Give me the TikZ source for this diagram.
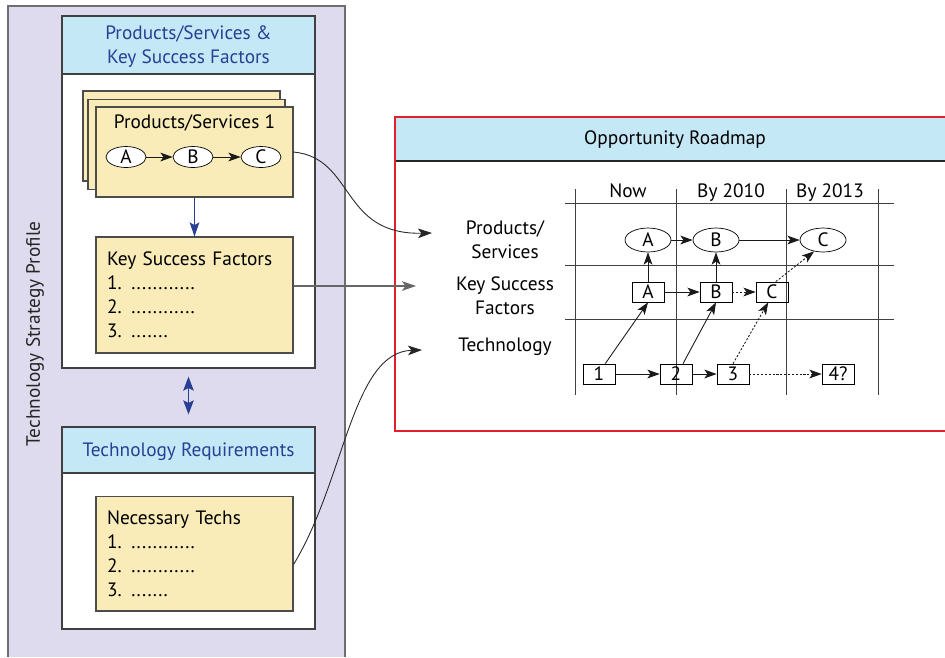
\documentclass[tikz,border=0pt]{standalone}
\usepackage{fontspec}
\setmainfont{PT Sans}
\definecolor{tslavender}{RGB}{223,219,238}
\definecolor{tsheadblue}{RGB}{197,232,247}
\definecolor{tsyellow}{RGB}{249,236,185}
\definecolor{tsnavy}{RGB}{40,64,148}
\definecolor{tsred}{RGB}{226,32,44}
\definecolor{tsgray}{RGB}{110,110,110}
\usetikzlibrary{arrows.meta,positioning,shapes.geometric,calc}

\begin{document}
\begin{tikzpicture}[
  x=0.02cm,y=-0.02cm,
  font=\fontsize{11}{13.6}\selectfont,
  panelbox/.style={draw=black!75,fill=white,line width=0.7pt,minimum width=5.06cm},
  headbox/.style={draw=black!75,fill=tsheadblue,line width=0.7pt,minimum width=5.06cm,
    text=tsnavy,align=center,anchor=north,text depth=0pt},
  notebox/.style={draw=black!70,fill=tsyellow,line width=0.6pt},
  listbox/.style={notebox,text width=3.5cm,inner xsep=0.22cm,align=left},
  psoval/.style={draw,ellipse,fill=white,minimum width=0.8cm,minimum height=0.42cm,inner sep=0pt},
  mapoval/.style={draw,ellipse,minimum width=0.92cm,minimum height=0.48cm,inner sep=0pt},
  mapbox/.style={draw,minimum width=0.64cm,minimum height=0.4cm,inner sep=0pt},
  link/.style={-{Stealth[length=8pt,width=5.5pt,inset=2pt]},black!85,line width=0.5pt},
  maparrow/.style={-{Stealth[length=7pt,width=5pt,inset=1.8pt]},black!90,line width=0.5pt},
  fine/.style={dash pattern=on 1.2pt off 1pt},
  gridline/.style={black!75,line width=0.55pt}
]
  \useasboundingbox (0,0) rectangle (945,657);
  % Strategy profile
  \fill[tslavender] (8,6) rectangle (345,657);
  \draw[tsgray,line width=0.8pt] (8,657) -- (8,6) -- (345,6) -- (345,657);
  \node[rotate=90,text=black!85] (tsp) at (35,334) {Technology Strategy Profile};
  % Products/Services & KSF panel
  \node[panelbox,minimum height=7.04cm] (pksf) at (188.5,192) {};
  \node[headbox,minimum height=1.16cm] (pkshead) at (pksf.north) {Products/Services \&\\Key Success Factors};
  \node[notebox,minimum width=3.94cm,minimum height=1.8cm] (ps3) at (181.5,136) {};
  \node[notebox,minimum width=3.94cm,minimum height=1.8cm] (ps2) at (186.5,144.5) {};
  \node[notebox,minimum width=3.94cm,minimum height=1.8cm] (ps1) at (194.5,152) {};
  \node (ps1title) at (194.5,123) {Products/Services 1};
  \node[psoval] (pa) at (126,157) {A};
  \node[psoval] (pb) at (193,157) {B};
  \node[psoval] (pc) at (261,157) {C};
  \draw[maparrow] (pa) -- (pb);
  \draw[maparrow] (pb) -- (pc);
  \node[listbox,minimum height=2.32cm] (ksf) at (194.5,295)
    {Key Success Factors\\1. ............\\2. ............\\3. .......};
  \draw[-{Stealth[length=8pt,width=5.5pt,inset=1.5pt]},tsnavy,line width=0.6pt] (ps1.south) -- (ksf.north);
  % Technology requirements panel
  \node[panelbox,minimum height=4.04cm] (ptech) at (188.5,528) {};
  \node[headbox,minimum height=0.92cm] (techreq) at (ptech.north) {Technology Requirements};
  \node[listbox,minimum height=2.3cm] (ntech) at (194.5,553.5)
    {Necessary Techs\\1. ............\\2. ............\\3. .......};
  \draw[{Stealth[length=8pt,width=6pt,inset=1.5pt]}-{Stealth[length=8pt,width=6pt,inset=1.5pt]},
    tsnavy,line width=0.7pt,shorten <=0.16cm,shorten >=0.24cm] (pksf.south) -- (ptech.north);
  % Opportunity roadmap
  \fill[tsheadblue] (395,117) rectangle (946,161);
  \draw[black!85,line width=0.7pt] (395,161) -- (946,161);
  \draw[tsred,line width=0.7pt] (946,117) -| (395,431) -- (946,431);
  \node (roadmap) at (675,140) {Opportunity Roadmap};
  \foreach \x in {575,676,786,878} \draw[gridline] (\x,189) -- (\x,395);
  \foreach \y in {203,265,319} \draw[gridline] (565,\y) -- (894,\y);
  \node[anchor=base] (now) at (628,197) {Now};
  \node[anchor=base] (by10) at (731,197) {By 2010};
  \node[anchor=base] (by13) at (830,197) {By 2013};
  \node[align=center] (rowps) at (505,240) {Products/\\Services};
  \node[align=center] (rowksf) at (505,296) {Key Success\\Factors};
  \node (rowtech) at (505,347) {Technology};
  % Roadmap items
  \node[mapoval] (ea) at (648,240) {A};
  \node[mapoval] (eb) at (716,240) {B};
  \node[mapoval] (ec) at (823,240) {C};
  \node[mapbox] (ka) at (648,292) {A};
  \node[mapbox] (kb) at (716,292) {B};
  \node[mapbox] (kc) at (772,292) {C};
  \node[mapbox] (t1) at (599,374) {1};
  \node[mapbox] (t2) at (676,374) {2};
  \node[mapbox] (t3) at (733,374) {3};
  \node[mapbox] (t4) at (838,374) {4?};
  \draw[maparrow] (ea) -- (eb);
  \draw[maparrow] (eb) -- (ec);
  \draw[maparrow] (ka) -- (ea);
  \draw[maparrow] (kb) -- (eb);
  \draw[maparrow] (ka) -- (kb);
  \draw[maparrow,fine] (kb) -- (kc);
  \draw[maparrow,fine] (kc.70) -- (ec.232);
  \draw[maparrow] (t1) -- (t2);
  \draw[maparrow] (t2) -- (t3);
  \draw[maparrow,fine] (t3) -- (t4);
  \draw[maparrow] (t1.59) -- (ka.south);
  \draw[maparrow] (t2.56) -- (kb.south);
  \draw[maparrow,fine] (t3.north) -- (kc.250);
  % Links into the roadmap
  \coordinate (psin) at (432,233);
  \coordinate (ksfin) at (416,286);
  \coordinate (techin) at (422,350);
  \draw[link] (ps1.east) .. controls (355,158) and (340,235) .. (psin);
  \draw[link,black!60,line width=0.7pt] (ksf.east |- ksfin) -- (ksfin);
  \draw[link] ($(ntech.east)+(0,11)$) .. controls (345,480) and (352,352) .. (techin);
\end{tikzpicture}
\end{document}
